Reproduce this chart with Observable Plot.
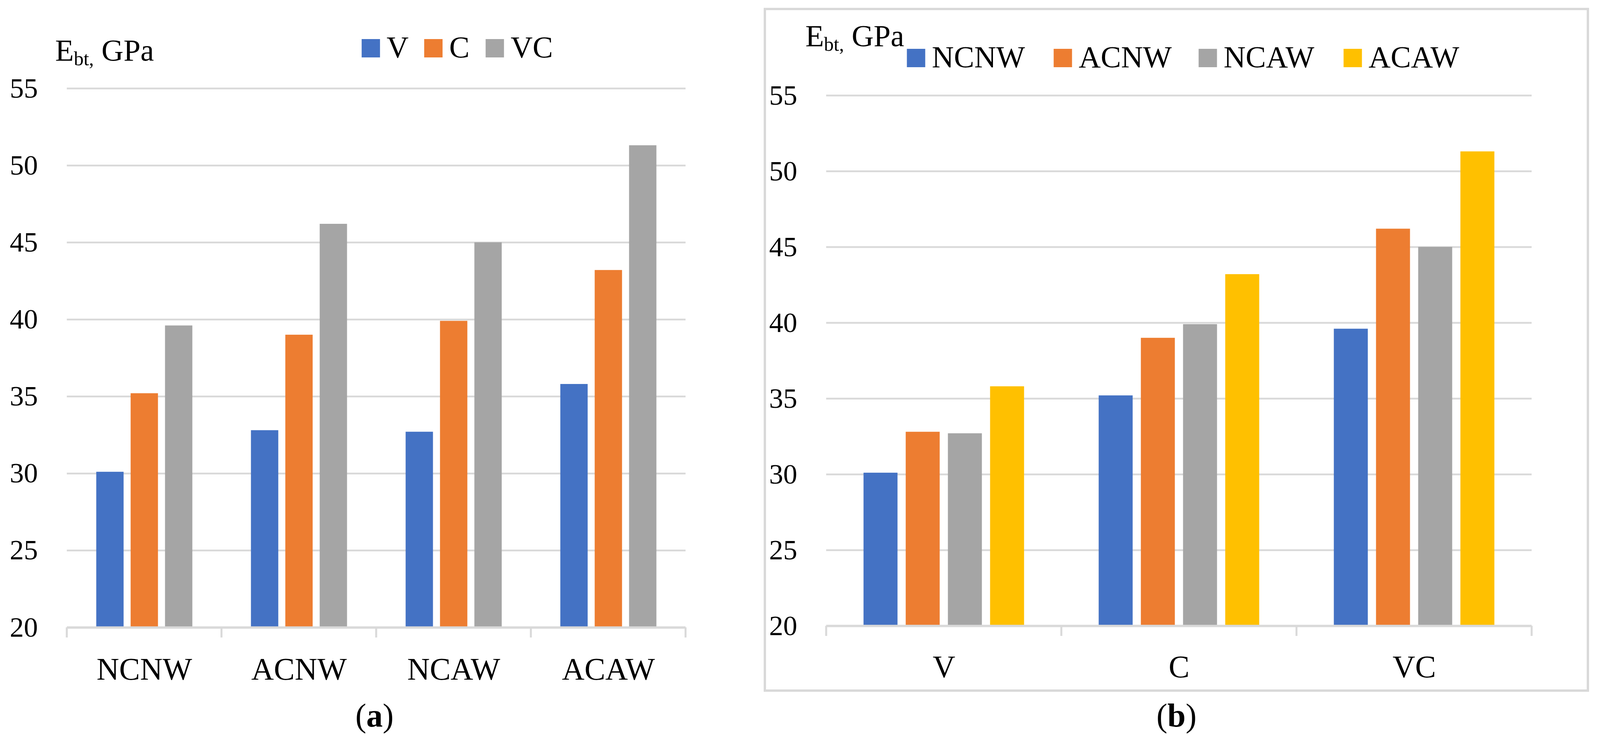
<!DOCTYPE html>
<html><head><meta charset="utf-8">
<script src="https://cdn.jsdelivr.net/npm/d3@7"></script>
<script src="https://cdn.jsdelivr.net/npm/@observablehq/plot@0.6"></script>
<style>
html,body{margin:0;padding:0;background:#fff;overflow:hidden;}
#root{position:relative;height:1897px;overflow:hidden;font-family:"Liberation Serif","Times New Roman",serif;background:#fff;}
#root > svg, #root > figure{position:absolute;top:0;margin:0;}
#frameB{position:absolute;top:20px;height:1751px;border:6px solid #d9d9d9;box-sizing:border-box;}
</style></head><body><div id="root"><div id="frameB"></div></div>
<script>
// ---- data ----
const treatments = ["NCNW", "ACNW", "NCAW", "ACAW"];
const stages = ["V", "C", "VC"];
const valuesV  = [30.1, 32.8, 32.7, 35.8];   // per treatment
const valuesC  = [35.2, 39.0, 39.9, 43.2];
const valuesVC = [39.6, 46.2, 45.0, 51.3];
const yTicks = [20, 25, 30, 35, 40, 45, 50, 55];
const stageColors = ["#4472c4", "#ed7d31", "#a5a5a5"];
const treatmentColors = ["#4472c4", "#ed7d31", "#a5a5a5", "#ffc000"];
const captions = ["a", "b"];

const FONT = "Liberation Serif";
const GRID = "#d9d9d9";

// horizontal fit: the design is 4349 px wide; squeeze x positions if the viewport is narrower
const W = 4349;
const SX = Math.min(1, (window.innerWidth || W) / W);
const X = v => v * SX;

const stageValues = [valuesV, valuesC, valuesVC];
const rows = [];
stages.forEach((s, j) => treatments.forEach((t, i) => rows.push({treatment: t, stage: s, value: stageValues[j][i]})));

const root = document.getElementById("root");
root.style.width = X(W) + "px";
const frameB = document.getElementById("frameB");
frameB.style.left = X(2076) + "px";
frameB.style.width = X(2243) + "px";

function drawPanel(cfg) {
  const {outerKey, innerKey, outerDomain, innerDomain, colors, left, width, height, m, padInner, padOuter, yPad, catPad} = cfg;
  const chart = Plot.plot({
    width: X(width), height,
    marginLeft: X(m[0]), marginRight: X(m[1]), marginTop: m[2], marginBottom: m[3],
    style: {fontFamily: FONT, fontSize: "72px", color: "#000", background: "transparent", overflow: "visible"},
    facet: {data: rows, x: outerKey},
    fx: {domain: outerDomain, padding: 0, axis: "bottom", label: null, tickSize: 0, tickPadding: catPad},
    x: {domain: innerDomain, axis: null, paddingInner: padInner, paddingOuter: padOuter},
    y: {domain: [yTicks[0], yTicks[yTicks.length - 1]], ticks: yTicks, tickSize: 0, tickPadding: X(yPad), label: null},
    color: {domain: innerDomain, range: colors},
    marks: [
      Plot.ruleY(yTicks.slice(1), {stroke: GRID, strokeWidth: 4.5}),
      Plot.barY(rows, {x: innerKey, y1: yTicks[0], y2: "value", fill: innerKey}),
      Plot.ruleY([yTicks[0]], {stroke: GRID, strokeWidth: 6})
    ]
  });
  chart.style.left = X(left) + "px";
  root.appendChild(chart);
  const svgEl = chart.tagName.toLowerCase() === "svg" ? chart : chart.querySelector("svg");
  const svg = d3.select(svgEl);
  svg.selectAll('g[aria-label^="fx-axis"] text').attr("font-size", 80);
  // category-boundary tick marks below the baseline, placed with Plot's own scales
  const fx = chart.scale("fx"), y = chart.scale("y");
  const y0 = y.apply(yTicks[0]);
  const bounds = outerDomain.map(d => fx.apply(d));
  bounds.push(fx.apply(outerDomain[outerDomain.length - 1]) + fx.bandwidth);
  svg.append("g").selectAll("line").data(bounds).join("line")
    .attr("x1", d => d).attr("x2", d => d).attr("y1", y0).attr("y2", y0 + 26)
    .attr("stroke", GRID).attr("stroke-width", 5);
}

drawPanel({
  outerKey: "treatment", innerKey: "stage", outerDomain: treatments, innerDomain: stages, colors: stageColors,
  left: 0, width: 2050, height: 1780, m: [179, 185, 226, 174], padInner: 0.21, padOuter: 0.83, yPad: 79, catPad: 77
});
drawPanel({
  outerKey: "stage", innerKey: "treatment", outerDomain: stages, innerDomain: treatments, colors: treatmentColors,
  left: 2079, width: 2236, height: 1780, m: [165, 151, 244, 178], padInner: 0.198, padOuter: 0.862, yPad: 79, catPad: 75
});

// ---- overlay: axis titles, legends, captions ----
const overlay = d3.select(root).append("svg")
  .attr("width", X(W)).attr("height", 1897)
  .style("position", "absolute").style("left", 0).style("top", 0)
  .attr("font-family", FONT).attr("fill", "#000");

function yTitle(x, baseline) {
  const t = overlay.append("text").attr("x", X(x)).attr("y", baseline).attr("font-size", 78);
  t.append("tspan").text("E");
  t.append("tspan").attr("font-size", 50).attr("dy", 12).text("bt,");
  t.append("tspan").attr("dy", -12).text("\u00A0GPa");
}
yTitle(150, 155);
yTitle(2189, 118);

function legend(labels, colors, xs, baseline) {
  labels.forEach((lab, i) => {
    overlay.append("rect").attr("x", X(xs[i])).attr("y", baseline - 47).attr("width", 47).attr("height", 47).attr("fill", colors[i]);
    overlay.append("text").attr("x", X(xs[i]) + 64).attr("y", baseline).attr("font-size", 78).text(lab);
  });
}
legend(stages, stageColors, [983, 1153, 1320], 147);
legend(treatments, treatmentColors, [2465, 2864, 3258, 3652], 172);

function caption(letter, cx) {
  const t = overlay.append("text").attr("x", X(cx)).attr("y", 1860).attr("font-size", 84).attr("text-anchor", "middle");
  t.append("tspan").text("(");
  t.append("tspan").attr("font-weight", "bold").text(letter);
  t.append("tspan").text(")");
}
caption(captions[0], 1018);
caption(captions[1], 3198);
</script></body></html>
